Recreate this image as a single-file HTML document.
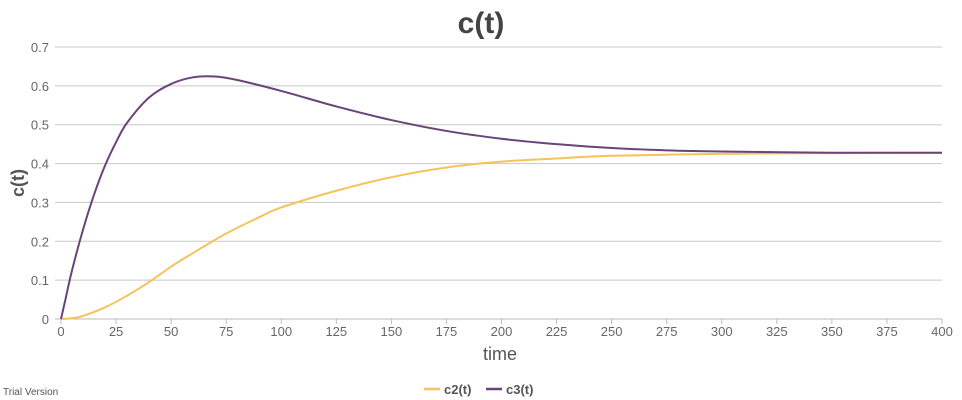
<!DOCTYPE html>
<html><head><meta charset="utf-8"><style>
body{margin:0;background:#fff;font-family:"Liberation Sans",sans-serif}
svg{display:block}
</style></head><body>
<svg id="chart" width="962" height="400">
<g id="grid"></g>
<g id="yt"></g>
<g id="xt"></g>
<g id="series"></g>
<text x="481" y="33" text-anchor="middle" font-size="30" font-weight="bold" fill="#444">c(t)</text>
<text x="500" y="360" text-anchor="middle" font-size="18" fill="#555">time</text>
<text transform="translate(24,183) rotate(-90)" text-anchor="middle" font-size="18" font-weight="bold" fill="#555">c(t)</text>
<text x="3" y="395" font-size="10" fill="#555">Trial Version</text>
<g>
<g><line x1="424" y1="389" x2="440" y2="389" stroke="#f5c35a" stroke-width="2.5"/><text x="444" y="394" font-size="13" font-weight="bold" fill="#555">c2(t)</text></g>
<g><line x1="486" y1="389" x2="502" y2="389" stroke="#6a4478" stroke-width="2.5"/><text x="506" y="394" font-size="13" font-weight="bold" fill="#555">c3(t)</text></g>
</g>
</svg>
<script>
const xTicks=[0,25,50,75,100,125,150,175,200,225,250,275,300,325,350,375,400];
const yTicks=[0,0.1,0.2,0.3,0.4,0.5,0.6,0.7];
const c3T=[0,2,5,10,15,20,25,30,40,50,60,70,80,100,125,150,175,200,225,250,275,300,350,400];
const c3V=[0,0.05,0.125,0.23,0.32,0.395,0.455,0.505,0.57,0.605,0.622,0.624,0.615,0.587,0.547,0.512,0.484,0.464,0.45,0.44,0.434,0.431,0.428,0.428];
const c2T=[0,5,10,20,30,40,50,60,75,90,100,125,150,175,200,225,250,300,350,400];
const c2V=[0,0.002,0.008,0.03,0.06,0.095,0.135,0.17,0.22,0.262,0.287,0.33,0.365,0.39,0.405,0.413,0.42,0.425,0.427,0.428];
const NS='http://www.w3.org/2000/svg';
const X=v=>61+v/400*881, Y=v=>319-v/0.7*272;
function mk(t,a,p){const e=document.createElementNS(NS,t);for(const k in a)e.setAttribute(k,a[k]);p.appendChild(e);return e;}
const grid=document.getElementById('grid'),yt=document.getElementById('yt'),xt=document.getElementById('xt'),ser=document.getElementById('series');
yTicks.forEach(v=>{
 const l=mk('line',{x1:55,x2:942,y1:Y(v),y2:Y(v),stroke:v===0?'#bbb':'#c8c8c8','stroke-width':1},grid);
 
 
 const t=mk('text',{x:49,y:Y(v)+5,'text-anchor':'end','font-size':13,fill:'#666'},yt);
 t.textContent=String(v);
 
 
});
xTicks.forEach(v=>{
 mk('line',{x1:X(v),x2:X(v),y1:319,y2:324,stroke:'#bbb'},xt);
 const t=mk('text',{x:X(v),y:336,'text-anchor':'middle','font-size':13,fill:'#666'},xt);
 t.textContent=String(v);
 
 
});
function path(T,V){
 const p=T.map((t,i)=>[X(t),Y(V[i])]);
 let d='M'+p[0][0]+','+p[0][1];
 for(let i=0;i<p.length-1;i++){
  const p0=p[i-1]||p[i],p1=p[i],p2=p[i+1],p3=p[i+2]||p2;
  const c1=[p1[0]+(p2[0]-p0[0])/6,p1[1]+(p2[1]-p0[1])/6],c2=[p2[0]-(p3[0]-p1[0])/6,p2[1]-(p3[1]-p1[1])/6];
  d+=' C'+c1+' '+c2+' '+p2;
 }
 return d;
}
const s2=mk('path',{d:path(c2T,c2V),fill:'none',stroke:'#f5c35a','stroke-width':2},ser);


const s3=mk('path',{d:path(c3T,c3V),fill:'none',stroke:'#6a4478','stroke-width':2},ser);


</script>
</body></html>
